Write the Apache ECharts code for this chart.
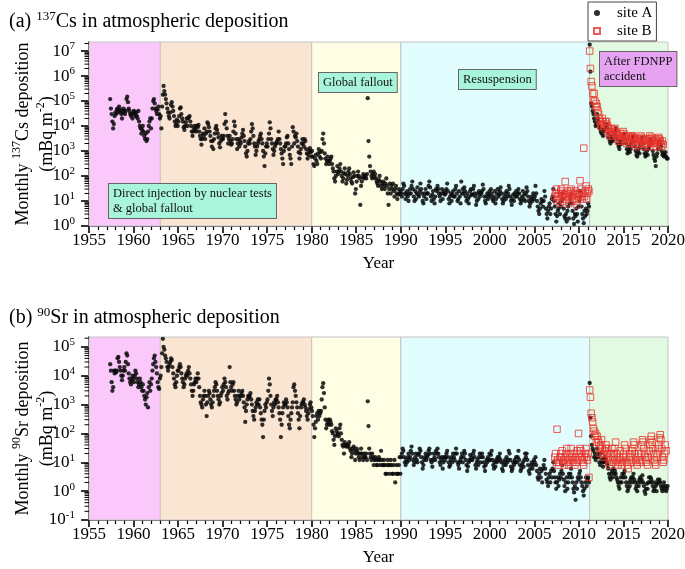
<!DOCTYPE html>
<html><head><meta charset="utf-8">
<script src="https://cdn.jsdelivr.net/npm/echarts@6/dist/echarts.min.js"></script>
<style>html,body{margin:0;padding:0;background:#fff}#c{width:685px;height:569px}</style>
</head><body><div id="c"></div>
<script>
// ---------- tick / band definitions ----------
const xTicks = [1955,1960,1965,1970,1975,1980,1985,1990,1995,2000,2005,2010,2015,2020];
const bandEdges = [1955, 1963, 1980, 1990, 2011.2, 2020];
const bandColors = ['#fac8fa','#fae4d2','#fffde4','#e1fdfd','#e1fae1'];
const minorMult = [2,3,4,5,6,7,8,9];
const decadesA = [1,10,100,1e3,1e4,1e5,1e6,1e7];
const decadesB = [0.1,1,10,100,1e3,1e4,1e5];

// ---------- 137Cs, site A (monthly, mBq m-2) ----------
const csA_1957_1969 = [ // from May 1957
1.2e5,5e4,3e4,1.5e4,8e3,1.2e4,2.5e4,3.5e4,
3e4,4.5e4,5e4,3.5e4,6e4,4e4,4.5e4,3e4,2e4,3.5e4,5e4,4e4,
3e4,4e4,1.2e5,1.5e5,9e4,5e4,4e4,3e4,2.5e4,3e4,2e4,3.5e4,
4e4,3e4,2.5e4,3.5e4,2.5e4,2e4,4e4,1.5e4,1e4,8e3,5e3,7e3,
1e4,6e3,4e3,3e3,5e3,2.5e3,3e3,6e3,1e4,1.5e4,2e4,8e3,
2e4,5e4,1e5,1.2e5,8e4,5e4,4e4,3e4,4.5e4,6e4,3e4,2e4,
2.5e4,8e3,6e4,1.8e5,4e5,2.5e5,1.8e5,1.2e5,8e4,5e4,3.5e4,2.5e4,
2e4,3.5e4,7e4,9e4,6e4,4e4,2.5e4,1.5e4,1e4,1.2e4,1.8e4,1e4,
1.5e4,2.5e4,5e4,5.5e4,3e4,2e4,1.5e4,9e3,7e3,1e4,1.4e4,2e4,
1e4,2e4,2.2e4,2.5e4,1.5e4,1e4,6e3,4e3,6e3,8e3,1e4,7e3,
6e3,1e4,9e3,1.1e4,6e3,4e3,3e3,1.8e3,3e3,5e3,4e3,8e3,
3e3,5e3,6e3,1.4e4,1.2e4,9e3,6e3,4e3,2.5e3,1.5e3,2.5e3,1.2e3,
3e3,5e3,8e3,1e4,7e3,5e3,3.5e3,2e3,1.4e3,2.5e3,4e3,3e3];
const csA_1970_1989 = [ // from Jan 1970
3e3,4e3,1.2e4,3e4,1.5e4,8e3,4e3,2e3,3e3,4e3,2.5e3,1.8e3,
2e3,3e3,6e3,1.5e4,1e4,5e3,3e3,1.2e3,2e3,3e3,1.5e3,2.5e3,
2e3,3.5e3,5e3,7e3,4e3,2.5e3,1.5e3,8e2,6e2,1e3,2e3,2.5e3,
2e3,3e3,6e3,1.2e4,8e3,4e3,2e3,1.5e3,7e2,1e3,1.5e3,2e3,
2.5e3,3e3,4e3,5e3,3e3,2e3,1e3,6e2,2.5e2,8e2,1.5e3,2e3,
1.5e3,3e3,5e3,1.4e4,8e3,3e3,2e3,1.2e3,7e2,1e3,1.5e3,2e3,
2e3,2.5e3,3e3,6e3,3e3,2e3,1.2e3,8e2,5e2,3e2,1e3,1.5e3,
1.5e3,2e3,3.5e3,4e3,2e3,1.2e3,7e2,5e2,3e2,1.5e3,9e3,6e3,
2e3,4e3,3.5e3,5e3,2.5e3,1.5e3,9e2,5e2,8e2,1.2e3,2e3,3e3,
2e3,1.5e3,3e3,2.5e3,1.2e3,8e2,5e2,7e2,1e3,1.3e3,9e2,6e2,
1e3,6e2,3e2,2.5e2,5e2,7e2,4e2,3e2,8e2,1.2e3,6e2,9e2,
5e2,1e3,3e3,5e3,2e3,8e2,5e2,3e2,4e2,6e2,4e2,3e2,
4e2,5e2,6e2,3e2,2e2,1.5e2,8e1,6e1,1e2,1.5e2,2.5e2,1.2e2,
1.5e2,2e2,3e2,1.5e2,1e2,6e1,8e1,1.3e2,2e2,1.2e2,5e1,7e1,
1e2,1.5e2,2e2,1.2e2,8e1,6e1,5e1,9e1,1.4e2,1e2,2e1,3e1,
6e1,1e2,1.5e2,1e2,8e1,7,4e1,6e1,9e1,1.2e2,8e1,1e2,
1e2,8e1,1.2e2,1.3e5,2.5e3,6e2,2.5e2,1.5e2,1e2,8e1,1.2e2,1.5e2,
9e1,1.2e2,8e1,6e1,5e1,4e1,7e1,1e2,6e1,4e1,3e1,5e1,
6e1,4e1,3e1,5e1,8e1,4e1,2e1,7,3e1,5e1,2e1,4e1,
3e1,5e1,2.5e1,1.5e1,3e1,4e1,2e1,1.2e1,1.8e1,3e1,2e1,2.5e1];
const csA_1990_2011 = [ // from Jan 1990 to Feb 2011
20,15,30,50,40,20,12,18,25,15,10,20,
30,20,40,60,30,15,10,25,12,20,35,18,
15,25,50,30,20,10,8,15,20,30,12,20,
20,40,60,35,15,10,18,25,12,8,15,30,
25,40,30,20,15,10,20,30,12,20,25,18,
20,30,50,25,12,8,15,20,10,18,25,15,
15,30,40,20,10,12,25,15,8,60,20,30,
20,35,25,15,10,20,12,8,15,25,30,18,
18,30,40,20,15,7,10,20,12,25,15,20,
20,25,45,30,15,10,8,15,20,12,18,25,
15,30,20,12,10,15,25,8,12,20,30,15,
18,25,35,20,12,8,10,15,20,12,25,15,
20,40,30,15,10,7,12,18,10,20,15,25,
15,20,30,20,12,8,10,15,25,12,18,10,
20,35,25,15,10,6,8,12,15,10,20,12,
15,40,20,10,6,4,3,5,8,12,10,6,
10,25,15,5,3,2,4,6,8,3,5,12,
15,30,10,6,3,1.5,2.5,4,5,8,3,6,
10,20,12,5,2.5,2,3,1.5,4,6,2,8,
12,18,8,4,2,1.2,3,2.5,5,3,1.5,6,
10,25,15,6,3,2,1.3,4,2.5,5,3,4,
8,6];
const csA_2011_2019 = [ // from Mar 2011
1.8e7,1.5e6,8e4,6e4,4e4,3e4,2e4,1.5e4,1e4,1.2e4,
3e4,2e4,1.5e4,1e4,8e3,6e3,5e3,7e3,4e3,6e3,8e3,1.2e4,
1e4,1.2e4,8e3,5e3,3.5e3,2.5e3,2e3,3e3,4e3,2.5e3,3e3,5e3,
6e3,8e3,4e3,3e3,2e3,1.5e3,1.2e3,1.8e3,2.5e3,2e3,3e3,4e3,
4.5e3,5e3,3e3,2e3,1.2e3,8e2,1e3,1.5e3,9e2,1.2e3,2e3,2.5e3,
3e3,4e3,2.5e3,1.5e3,1e3,7e2,6e2,9e2,1.2e3,8e2,1.5e3,2e3,
2.5e3,3.5e3,2e3,1.2e3,8e2,6e2,7e2,1e3,7e2,1.2e3,1.5e3,2.2e3,
3e3,2.5e3,2e3,1e3,7e2,5e2,4e2,2.5e2,6e2,8e2,1.2e3,1.8e3,
2.5e3,2e3,1.5e3,1e3,7e2,8e2,6e2,7e2,9e2,6e2,5e2,5e2];

// ---------- 137Cs, site B ----------
const csB_2007_2019 = [ // from Apr 2007
15,20,30,10,15,20,12,8,25,
30,20,15,10,18,60,20,12,25,15,8,20,
25,30,15,10,20,12,18,25,10,7,15,20,
20,65,30,15,12,20,1.3e3,15,25,40,12,20,
30,25,1e7,2e6,6e5,4e5,2e5,1e5,2e5,1e5,6e4,8e4,
6e4,4e4,3e4,2e4,1.5e4,1e4,1.2e4,2e4,1.5e4,1e4,8e3,1.5e4,
1.2e4,1.5e4,1e4,8e3,5e3,4e3,6e3,8e3,5e3,4e3,6e3,7e3,
8e3,6e3,5e3,4e3,3e3,2.5e3,4e3,5e3,3e3,2.5e3,4e3,6e3,
5e3,4e3,3e3,2.5e3,2e3,3e3,4e3,2.5e3,2e3,3e3,3.5e3,4e3,
4e3,3.5e3,3e3,2e3,1.5e3,2.5e3,3e3,2e3,1.8e3,2.5e3,3e3,4e3,
3.5e3,3e3,2.5e3,2e3,1.5e3,2e3,3e3,2.5e3,1.5e3,2e3,3e3,4e3,
3e3,3.5e3,2.5e3,2e3,1.5e3,2.2e3,3e3,2e3,1.5e3,2.5e3,3e3,3.5e3,
3e3,2.5e3,2e3,1.5e3,2.5e3,1.8e3];

// ---------- 90Sr, site A ----------
const srA_1957_1969 = [ // from May 1957
2.5e4,1.5e4,6e3,3e3,4e3,1.5e4,1.2e4,1.5e4,
1.3e4,1.5e4,4e4,4.5e4,3e4,2e4,1.5e4,1e4,7e3,1e4,1.5e4,2e4,
1.5e4,3e4,6e4,5e4,2.5e4,1.2e4,8e3,6e3,5e3,7e3,1e4,8e3,
6e3,1e4,1.5e4,1.2e4,8e3,6e3,4e3,5e3,8e3,6e3,4e3,3e3,
5e3,3e3,2e3,1.5e3,1e3,1.8e3,2.5e3,8e2,4e3,6e3,3e3,5e3,
8e3,1.5e4,2.5e4,4e4,5e4,3e4,2e4,1.2e4,6e3,4e3,3.5e3,8e3,
1e4,2e4,6e4,1.9e5,1e5,8e4,5e4,4e4,3e4,2e4,1.5e4,2e4,
2.5e4,3e4,4e4,3.5e4,2e4,1.2e4,8e3,5e3,4e3,6e3,1e4,1.5e4,
1.5e4,2e4,2.5e4,2e4,1.2e4,8e3,6e3,4e3,5e3,8e3,1e4,1.2e4,
1e4,1.5e4,2e4,1.2e4,8e3,5e3,3e3,2e3,3e3,5e3,6e3,8e3,
6e3,8e3,1.2e4,8e3,4e3,2e3,1.2e3,1e3,8e2,1.5e3,2e3,3e3,
2e3,1e3,4e2,1.2e3,2e3,3e3,2.5e3,1.5e3,1e3,8e2,1.2e3,2e3,
3e3,4e3,6e3,5e3,3e3,2e3,1.5e3,1e3,1.2e3,2e3,2.5e3,4e3];
const srA_1970_1989 = [ // from Jan 1970
3e3,5e3,8e3,6e3,4e3,2e3,1.5e3,2.5e3,3e3,2e4,6e3,4e3,
3e3,5e3,6e3,3e3,2e3,1.5e3,1e3,1.2e3,2e3,3e3,1.5e3,2e3,
2e3,2.5e3,3e3,2e3,1.2e3,8e2,2.5e2,6e2,1e3,1.5e3,2e3,1.8e3,
2e3,2.5e3,1.5e3,1e3,6e2,4e2,3e2,6e2,8e2,1.2e3,1e3,1.5e3,
1e3,1.5e3,8e2,5e2,3e2,2e2,7.5e1,3e2,6e2,1e3,8e2,1.2e3,
1.5e3,3e3,8e3,5e3,2e3,1e3,6e2,4e2,8e2,1.2e3,1e3,1.5e3,
1.5e3,2e3,1.2e3,8e2,5e2,3e2,7.5e1,2e2,5e2,8e2,1.2e3,1e3,
1e3,1.5e3,1.2e3,8e2,4e2,2e2,1.5e2,3e2,5e2,8e2,1.2e3,4e3,
5e3,3e3,2e3,1.2e3,8e2,5e2,3e2,1.5e2,4e2,8e2,1e3,1.2e3,
1.2e3,1.5e3,1e3,8e2,6e2,4e2,3e2,5e2,7e2,1e3,1.2e3,8e2,
6e2,4e2,2e2,7.5e1,1.5e2,2.5e2,4e2,5e2,3e2,6e2,4e2,5e2,
6e2,1.5e3,4e3,5.5e3,2.5e3,8e2,3e2,1.5e2,2e2,2.5e2,3e2,2e2,
3e2,2.5e2,2e2,1.2e2,1e2,6e1,4e1,8e1,1.5e2,1.2e2,9e1,1e2,
8e1,1.5e2,2e2,1e2,6e1,4e1,3.5e1,2e1,5e1,4e1,3.5e1,4e1,
35,40,50,30,25,15,20,30,35,25,12,20,
30,25,20,15,12,20,30,20,15,12,20,15,
15,20,12,1.3e3,1.8e2,30,20,15,12,20,15,8,
12,15,12,8,8,12,15,12,8,25,12,8,
8,12,8,4,4,8,12,8,4,8,12,8,
4,4,8,12,2,4,8,4,4,8,15,4];
const srA_1990_2011 = [ // from Jan 1990 to Feb 2011
15,20,30,25,15,10,8,12,10,15,20,12,
15,25,35,20,12,8,10,15,20,12,10,18,
20,30,25,15,10,6,8,12,15,20,12,15,
18,25,30,20,12,10,7,12,20,15,12,25,
20,30,20,15,10,8,12,15,6,10,15,12,
15,20,25,15,10,7,8,12,15,10,20,15,
12,20,30,20,10,8,6,10,12,15,20,10,
15,25,20,12,8,5,7,10,12,18,12,15,
12,20,25,15,8,6,10,12,8,15,20,10,
15,20,15,10,7,5,8,12,10,15,12,20,
12,18,25,12,8,6,10,7,12,10,15,12,
15,20,12,10,6,5,8,10,12,8,15,10,
12,25,20,12,7,5,6,10,8,12,10,15,
10,15,25,12,8,5,6,8,10,7,12,20,
15,20,12,8,5,4,6,8,10,6,8,12,
10,15,8,5,3,2.5,4,6,3,5,2,6,
8,12,6,4,2.5,2,1.5,3,4,2,5,3,
6,10,5,3,2,1.2,2,3,1.5,2.5,4,3,
5,8,4,2.5,1.5,1,2,3,1.2,2,4,3,
4,6,3,2,1.2,0.9,1.5,0.5,2,1.2,3,2.5,
4,5,3,2,1.5,1,0.7,1.2,2,3,1.5,2.5,
3,2];
const srA_2011_2019 = [ // from Mar 2011
5.6e3,3.5e2,80,40,30,25,15,20,12,15,
30,20,15,10,8,20,12,10,7,10,15,12,
12,10,8,6,4,3,2.5,4,5,3,6,4,
5,4,3,2.5,2,1.5,1.2,2,3,2,4,3,
4,5,3,2,1.5,1,1.2,2,1.5,2.5,3,2,
3,4,2.5,2,1.2,1.5,1,2,1.5,2.5,3,2,
2.5,3.5,2,1.5,1,0.8,1.2,1.8,1.2,2,3,2,
3,2.5,2,1.5,1,1.2,2,1.5,1,1.8,2.5,2,
2.5,2,1.5,1.2,1,1.5,2,1.2,1.5,1,1.2,1.5];

// ---------- 90Sr, site B ----------
const srB_2007_2019 = [ // from Apr 2007
15,20,10,140,12,8,10,15,20,
15,25,10,12,8,15,20,30,10,12,8,15,
20,30,15,10,12,20,8,15,10,25,12,100,
20,30,25,15,12,10,8,15,20,30,15,12,
20,3,3.2e3,1.8e3,5e2,3.5e2,2.5e2,1.5e2,1.2e2,80,100,50,
80,60,50,30,20,40,60,30,20,15,25,30,
40,30,20,15,10,8,12,20,30,15,10,20,
30,50,20,12,8,10,15,25,12,8,10,15,
20,40,30,15,10,8,6,12,20,15,10,25,
30,50,40,20,12,10,8,15,20,12,10,20,
40,60,50,30,20,15,10,12,8,15,25,40,
60,80,50,30,20,12,10,8,15,20,30,40,
70,90,60,30,15,10,12,20,40,25];

// ---------- build ----------
function monthly(y0, m0, vals) {
  return vals.map((v, i) => [y0 + (m0 - 1 + i + 0.5) / 12, v]);
}
const csA = [].concat(monthly(1957,5,csA_1957_1969), monthly(1970,1,csA_1970_1989),
                      monthly(1990,1,csA_1990_2011), monthly(2011,3,csA_2011_2019));
const csB = monthly(2007,4,csB_2007_2019);
const srA = [].concat(monthly(1957,5,srA_1957_1969), monthly(1970,1,srA_1970_1989),
                      monthly(1990,1,srA_1990_2011), monthly(2011,3,srA_2011_2019));
const srB = monthly(2007,4,srB_2007_2019);

function minorTicks(decades, maxV) {
  const out = [];
  decades.forEach(d => minorMult.forEach(m => { if (d * m < maxV) out.push([xTicks[0], d * m]); }));
  return out;
}

const FONT = 'Liberation Serif, Times New Roman, serif';
const bands = bandColors.map((c, i) => [
  {xAxis: bandEdges[i], itemStyle: {color: c, borderColor: '#c4c4c4', borderWidth: 1}},
  {xAxis: bandEdges[i + 1]}
]);

function xAxisOpt(gi) {
  return {
    type: 'value', gridIndex: gi, min: xTicks[0], max: xTicks[xTicks.length - 1], interval: 5,
    name: 'Year', nameLocation: 'middle', nameGap: 29,
    nameTextStyle: {fontFamily: FONT, fontSize: 17, color: '#000', verticalAlign: 'top'},
    axisLine: {onZero: false, lineStyle: {color: '#000', width: 1.6}},
    axisTick: {show: true, inside: false, length: 7, lineStyle: {color: '#000', width: 1.6}},
    minorTick: {show: true, splitNumber: 5, length: 4, lineStyle: {color: '#000', width: 1.2}},
    axisLabel: {fontFamily: FONT, fontSize: 17, color: '#000', margin: 6, formatter: v => String(v)},
    splitLine: {show: false}
  };
}
const supRich = {
  b: {fontFamily: FONT, fontSize: 17, color: '#000', lineHeight: 20},
  s: {fontFamily: FONT, fontSize: 11, color: '#000', verticalAlign: 'top', lineHeight: 12}
};
function yAxisOpt(gi, min, max, nameRich) {
  return {
    type: 'log', logBase: 10, gridIndex: gi, min: min, max: max, interval: 1,
    name: nameRich, nameLocation: 'middle', nameGap: 30, nameRotate: 90, nameMoveOverlap: false,
    nameTextStyle: {fontFamily: FONT, fontSize: 18, color: '#000', lineHeight: 24,
      rich: {t: {fontFamily: FONT, fontSize: 18, color: '#000', lineHeight: 24},
             s: {fontFamily: FONT, fontSize: 12, color: '#000', verticalAlign: 'top', lineHeight: 16}}},
    axisLine: {show: true, lineStyle: {color: '#000', width: 1.6}},
    axisTick: {show: true, inside: false, length: 8, lineStyle: {color: '#000', width: 1.6}},
    minorTick: {show: false},
    axisLabel: {margin: 14, showMaxLabel: false,
      formatter: v => '{b|10}{s|' + Math.round(Math.log10(v)) + '}', rich: supRich},
    splitLine: {show: false}
  };
}
const dotStyle = {color: '#0a0a0a', opacity: 0.85};
const sqStyle = {color: 'rgba(0,0,0,0)', borderColor: '#e8322c', borderWidth: 1};

const boxStyle = (fill) => ({
  fontFamily: FONT, fontSize: 12.5, lineHeight: 15, fill: '#111',
  backgroundColor: fill, borderColor: '#666', borderWidth: 1, padding: [2, 4]
});

function tickRender(params, api) {
  const p = api.coord([api.value(0), api.value(1)]);
  return {type: 'line', shape: {x1: p[0] - 4.5, y1: p[1], x2: p[0], y2: p[1]},
          style: {stroke: '#000', lineWidth: 1}};
}

const chart = echarts.init(document.getElementById('c'), null, {renderer: 'canvas'});
chart.setOption({
  animation: false,
  backgroundColor: '#fff',
  title: [
    {text: '(a) {s|137}Cs in atmospheric deposition', left: 4, top: 5,
     textStyle: {fontFamily: FONT, fontSize: 20, fontWeight: 'normal', color: '#000', lineHeight: 24,
       rich: {s: {fontFamily: FONT, fontSize: 13, color: '#000', verticalAlign: 'top', lineHeight: 16}}}},
    {text: '(b) {s|90}Sr in atmospheric deposition', left: 4, top: 301,
     textStyle: {fontFamily: FONT, fontSize: 20, fontWeight: 'normal', color: '#000', lineHeight: 24,
       rich: {s: {fontFamily: FONT, fontSize: 13, color: '#000', verticalAlign: 'top', lineHeight: 16}}}}
  ],
  legend: {
    data: [{name: 'site A', icon: 'circle'}, {name: 'site B', icon: 'path://M0,0H10V10H0Z'}],
    orient: 'vertical', left: 588, top: 2, width: 80,
    itemWidth: 30, itemHeight: 6, itemGap: 2,
    padding: [3, 4, 2, 5],
    backgroundColor: '#fff', borderColor: '#444', borderWidth: 1,
    textStyle: {fontFamily: FONT, fontSize: 15, color: '#000', lineHeight: 16}
  },
  grid: [
    {left: 89, right: 17, top: 42, height: 184, containLabel: false, outerBoundsMode: 'none'},
    {left: 89, right: 17, top: 337, height: 183, containLabel: false, outerBoundsMode: 'none'}
  ],
  xAxis: [xAxisOpt(0), xAxisOpt(1)],
  yAxis: [
    yAxisOpt(0, 1, 2.3e7, '{t|Monthly }{s|137}{t|Cs deposition}\n{t|(mBq m}{s|-2}{t|)}'),
    yAxisOpt(1, 0.1, 2.2e5, '{t|Monthly }{s|90}{t|Sr deposition}\n{t|(mBq m}{s|-2}{t|)}')
  ],
  series: [
    {type: 'scatter', xAxisIndex: 0, yAxisIndex: 0, data: [], silent: true,
     markArea: {silent: true, data: bands, label: {show: false}}},
    {type: 'scatter', xAxisIndex: 1, yAxisIndex: 1, data: [], silent: true,
     markArea: {silent: true, data: bands, label: {show: false}}},
    {type: 'custom', xAxisIndex: 0, yAxisIndex: 0, data: minorTicks(decadesA, 2.3e7),
     renderItem: tickRender, silent: true, clip: false, z: 5},
    {type: 'custom', xAxisIndex: 1, yAxisIndex: 1, data: minorTicks(decadesB, 2.2e5),
     renderItem: tickRender, silent: true, clip: false, z: 5},
    {name: 'site A', type: 'scatter', xAxisIndex: 0, yAxisIndex: 0, data: csA,
     symbol: 'circle', symbolSize: 4.3, itemStyle: dotStyle},
    {name: 'site B', type: 'scatter', xAxisIndex: 0, yAxisIndex: 0, data: csB,
     symbol: 'rect', symbolSize: 6.5, itemStyle: sqStyle},
    {name: 'site A', type: 'scatter', xAxisIndex: 1, yAxisIndex: 1, data: srA,
     symbol: 'circle', symbolSize: 4.3, itemStyle: dotStyle},
    {name: 'site B', type: 'scatter', xAxisIndex: 1, yAxisIndex: 1, data: srB,
     symbol: 'rect', symbolSize: 6.5, itemStyle: sqStyle}
  ],
  graphic: [
    {type: 'text', left: 108, top: 183, z: 100,
     style: Object.assign({text: 'Direct injection by nuclear tests\n& global fallout'}, boxStyle('#a8f5dc'))},
    {type: 'text', left: 318, top: 72, z: 100,
     style: Object.assign({text: 'Global fallout'}, boxStyle('#a8f5dc'))},
    {type: 'text', left: 458, top: 69, z: 100,
     style: Object.assign({text: 'Resuspension'}, boxStyle('#a8f5dc'))},
    {type: 'text', left: 599, top: 51, z: 100,
     style: Object.assign({text: 'After FDNPP\naccident'}, boxStyle('#e6a3f2'))}
  ]
});
</script>
</body></html>
